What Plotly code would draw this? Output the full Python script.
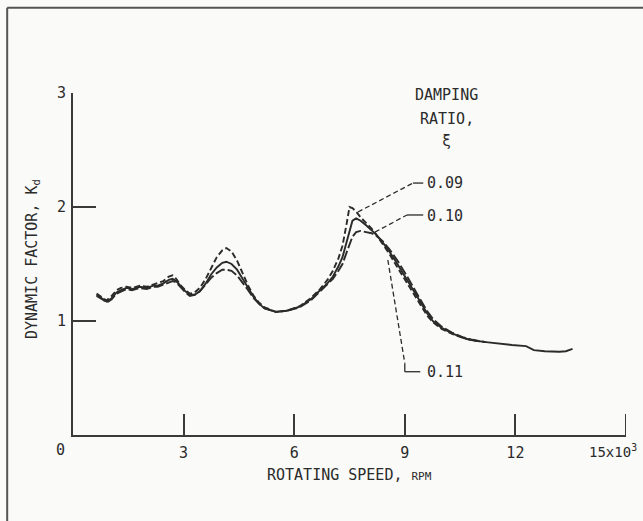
import plotly.graph_objects as go

# ---- data (rotating speed in thousands of rpm, dynamic factor Kd) ----
speed_k = [0.64, 0.8, 0.91, 1.05, 1.18, 1.3, 1.45, 1.6, 1.81, 2.0, 2.18, 2.3, 2.45, 2.6, 2.7,
           2.8, 2.9, 3.05, 3.17, 3.3, 3.44, 3.6, 3.75, 3.9, 4.05, 4.16, 4.3, 4.45, 4.6, 4.75,
           4.9, 5.05, 5.2, 5.5, 5.8, 6.15, 6.45, 6.7, 6.9, 7.05, 7.2, 7.31, 7.42, 7.5, 7.58,
           7.68, 7.8, 7.95, 8.1, 8.22, 8.4, 8.58, 8.8, 9.03, 9.2, 9.4, 9.6, 9.76, 10.0, 10.3,
           10.6, 10.84, 11.2, 11.56, 11.9, 12.29, 12.4, 12.5, 12.8, 13.19, 13.37, 13.55]

kd_010 = [1.23, 1.19, 1.17, 1.20, 1.25, 1.27, 1.29, 1.28, 1.30, 1.29, 1.31, 1.31, 1.33, 1.36, 1.37,
          1.35, 1.31, 1.26, 1.23, 1.23, 1.26, 1.33, 1.41, 1.47, 1.51, 1.52, 1.50, 1.45, 1.37, 1.29,
          1.21, 1.15, 1.11, 1.08, 1.09, 1.125, 1.19, 1.27, 1.33, 1.39, 1.48, 1.56, 1.70, 1.80, 1.88,
          1.90, 1.88, 1.84, 1.80, 1.76, 1.69, 1.61, 1.50, 1.38, 1.28, 1.18, 1.07, 1.00, 0.94, 0.89,
          0.85, 0.83, 0.815, 0.80, 0.79, 0.78, 0.765, 0.745, 0.735, 0.73, 0.735, 0.755]

kd_009 = [1.24, 1.20, 1.18, 1.22, 1.27, 1.29, 1.30, 1.29, 1.31, 1.30, 1.32, 1.33, 1.35, 1.39, 1.40,
          1.37, 1.32, 1.27, 1.24, 1.25, 1.29, 1.37, 1.47, 1.56, 1.62, 1.64, 1.61, 1.53, 1.42, 1.31,
          1.22, 1.16, 1.12, 1.08, 1.09, 1.13, 1.20, 1.28, 1.36, 1.44, 1.55, 1.66, 1.85, 2.00, 1.99,
          1.96, 1.91, 1.86, 1.81, 1.76, 1.68, 1.59, 1.47, 1.35, 1.25, 1.15, 1.05, 0.99, 0.93, 0.885,
          0.85, 0.83, 0.815]

kd_011 = [1.22, 1.19, 1.16, 1.19, 1.24, 1.26, 1.28, 1.27, 1.29, 1.28, 1.30, 1.30, 1.32, 1.34, 1.35,
          1.34, 1.30, 1.25, 1.22, 1.23, 1.26, 1.32, 1.38, 1.42, 1.45, 1.45, 1.44, 1.40, 1.34, 1.27,
          1.20, 1.15, 1.11, 1.08, 1.09, 1.12, 1.18, 1.26, 1.32, 1.37, 1.44, 1.50, 1.60, 1.68, 1.74,
          1.78, 1.79, 1.78, 1.77, 1.75, 1.70, 1.63, 1.53, 1.41, 1.31, 1.20, 1.09, 1.02, 0.95, 0.895,
          0.855, 0.835, 0.815]

x_tick_vals = [3, 6, 9, 12]
x_tick_text = ["3", "6", "9", "12"]
x_axis_max = 15
y_tick_vals = [1, 2, 3]
y_tick_text = ["1", "2", "3"]
ratio_labels = ["0.09", "0.10", "0.11"]

INK = "#2b2b2b"
AXIS = "#3a3a3a"
BG = "#fafaf8"
FONT = "DejaVu Sans Mono"

fig = go.Figure()
fig.add_trace(go.Scatter(x=speed_k[:len(kd_009)], y=kd_009, mode="lines",
                         line=dict(color=INK, width=1.9, dash="6px,3px"), name="0.09"))
fig.add_trace(go.Scatter(x=speed_k, y=kd_010, mode="lines",
                         line=dict(color=INK, width=1.9), name="0.10"))
fig.add_trace(go.Scatter(x=speed_k[:len(kd_011)], y=kd_011, mode="lines",
                         line=dict(color=INK, width=1.9, dash="10px,3px"), name="0.11"))

shapes = []
def seg(x0, y0, x1, y1, dash="solid", w=1.3):
    shapes.append(dict(type="line", xref="x", yref="y", x0=x0, y0=y0, x1=x1, y1=y1,
                       line=dict(color=INK, width=w, dash=dash)))

# leader lines
seg(7.73, 1.956, 9.22, 2.21, dash="5px,3px")
seg(9.22, 2.21, 9.50, 2.21)
seg(8.19, 1.78, 9.06, 1.93, dash="5px,3px")
seg(9.06, 1.93, 9.50, 1.93)
seg(8.54, 1.535, 9.0, 0.63, dash="5px,3px")
seg(9.0, 0.63, 9.0, 0.555)
seg(9.0, 0.555, 9.42, 0.555)

# end tick of the x axis (at 15 x 10^3), 21 px tall like the others
shapes.append(dict(type="line", xref="x", yref="paper", x0=x_axis_max, x1=x_axis_max,
                   y0=0, y1=21 / 342, line=dict(color=AXIS, width=2)))

# page frame (left + top)
shapes.append(dict(type="line", xref="paper", yref="paper", x0=-0.119, y0=1.249, x1=1.04, y1=1.249,
                   line=dict(color="#555", width=2)))
shapes.append(dict(type="line", xref="paper", yref="paper", x0=-0.119, y0=1.249, x1=-0.119, y1=-0.26,
                   line=dict(color="#555", width=2)))

ann = []
label_y = [2.21, 1.925, 0.555]
for lab, yy in zip(ratio_labels, label_y):
    ann.append(dict(x=9.55, y=yy, xref="x", yref="y", text=lab, showarrow=False,
                    xanchor="left", yanchor="middle", font=dict(family=FONT, size=15, color=INK)))
for txt, yy in [("DAMPING", 2.98), ("RATIO,", 2.77), ("ξ", 2.58)]:
    ann.append(dict(x=10.14, y=yy, xref="x", yref="y", text=txt, showarrow=False,
                    xanchor="center", yanchor="middle", font=dict(family=FONT, size=15, color=INK)))
# axis end labels
ann.append(dict(x=0, y=0, xref="x", yref="y", text="0", showarrow=False, xshift=-13, yshift=-15,
                xanchor="center", yanchor="middle", font=dict(family=FONT, size=15, color=INK)))
ann.append(dict(x=x_axis_max, y=0, xref="x", yref="y", text="15x10<sup>3</sup>", showarrow=False,
                xshift=13, yshift=-16, xanchor="right", yanchor="middle",
                font=dict(family=FONT, size=14, color=INK)))
# axis titles
ann.append(dict(x=7.5, y=0, xref="x", yref="y", text="ROTATING SPEED, <span style='font-size:11px'>RPM</span>",
                showarrow=False, yshift=-40, xanchor="center", yanchor="middle",
                font=dict(family=FONT, size=15, color=INK)))
ann.append(dict(x=-0.072, y=0.515, xref="paper", yref="paper", text="DYNAMIC FACTOR, K<sub>d</sub>",
                showarrow=False, textangle=-90, xanchor="center", yanchor="middle",
                font=dict(family=FONT, size=15, color=INK)))

fig.update_layout(
    width=643, height=521,
    margin=dict(l=73, r=17, t=93, b=86),
    paper_bgcolor=BG, plot_bgcolor=BG,
    showlegend=False,
    shapes=shapes, annotations=ann,
    xaxis=dict(range=[0, x_axis_max], showgrid=False, zeroline=False, showline=True, linecolor=AXIS,
               linewidth=2, ticks="inside", ticklen=21, tickwidth=2, tickcolor=AXIS,
               tickvals=x_tick_vals, ticktext=x_tick_text,
               tickfont=dict(family=FONT, size=15, color=INK), ticklabelstandoff=3),
    yaxis=dict(range=[0, 3], showgrid=False, zeroline=False, showline=True, linecolor=AXIS,
               linewidth=2, ticks="inside", ticklen=23, tickwidth=2, tickcolor=AXIS,
               tickvals=y_tick_vals, ticktext=y_tick_text,
               tickfont=dict(family=FONT, size=15, color=INK), ticklabelstandoff=2),
)

fig.write_html("out.html")
